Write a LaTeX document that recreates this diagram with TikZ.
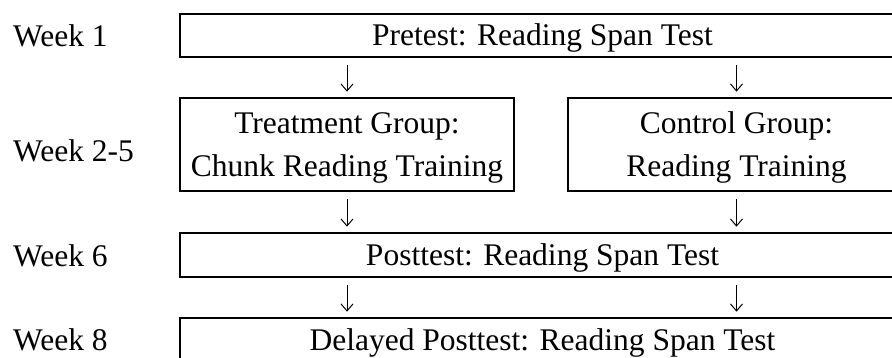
\documentclass[tikz,border=0pt]{standalone}
\usepackage{fontspec}
\setmainfont{Liberation Serif}
\usetikzlibrary{arrows.meta}
\begin{document}
\begin{tikzpicture}[x=1pt,y=-1pt,
  box/.style={draw, line width=2.6pt, inner sep=0pt, align=center,
    text height=21pt, text depth=0pt},
  twoline/.style={box, text height=64pt},
  lbl/.style={anchor=base west, inner sep=0pt},
  flow/.style={line width=1pt, -{Straight Barb[length=7pt,width=12pt,line width=1pt]},
    shorten <=7pt, shorten >=5pt}]
\useasboundingbox (0,0) rectangle (892,358);
\clip (0,0) rectangle (892,358);
\fontsize{31.5}{43}\selectfont
% stages of the study
\node[box, minimum width=725, minimum height=43] (pre) at (542.5,35.5) {Pretest: Reading Span Test};
\node[twoline, minimum width=334, minimum height=93] (tr) at (347,144.5) {Treatment Group:\\Chunk Reading Training};
\node[twoline, minimum width=337, minimum height=93] (ct) at (736.5,144.5) {Control Group:\\Reading Training};
\node[box, minimum width=725, minimum height=44] (po) at (542.5,255) {Posttest: Reading Span Test};
\node[box, minimum width=725, minimum height=44] (de) at (542.5,340) {Delayed Posttest: Reading Span Test};
% week labels
\node[lbl] (w1) at (13,47) {Week 1};
\node[lbl] (w2) at (13,162) {Week 2-5};
\node[lbl] (w6) at (13,266) {Week 6};
\node[lbl] (w8) at (13,350) {Week 8};
% flow arrows
\draw[flow] (pre.south -| tr.north) -- (tr.north);
\draw[flow] (pre.south -| ct.north) -- (ct.north);
\draw[flow] (tr.south) -- (po.north -| tr.south);
\draw[flow] (ct.south) -- (po.north -| ct.south);
\draw[flow] (po.south -| tr.south) -- (de.north -| tr.south);
\draw[flow] (po.south -| ct.south) -- (de.north -| ct.south);
\end{tikzpicture}
\end{document}
